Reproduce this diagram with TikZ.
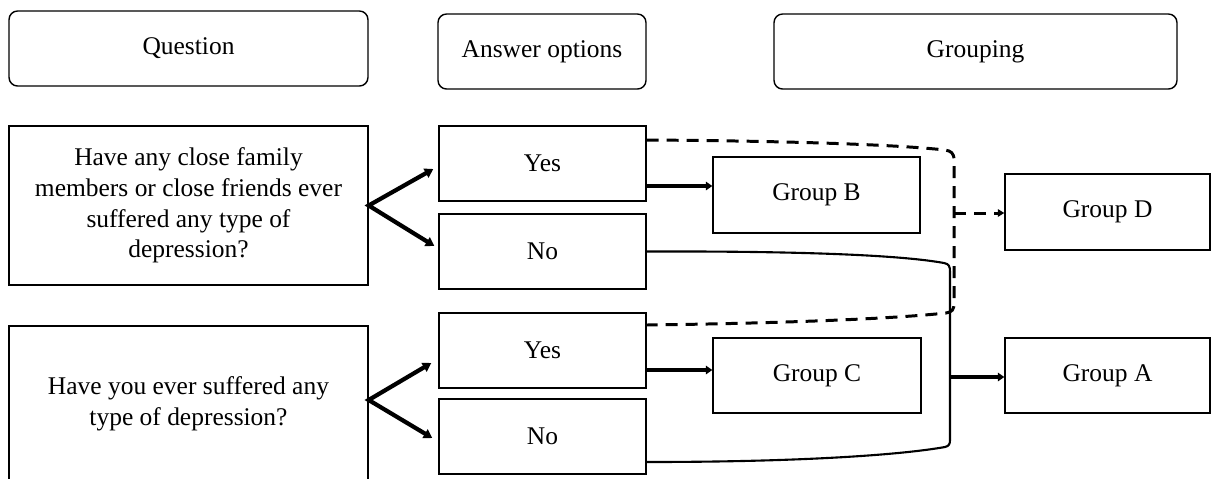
\documentclass[tikz,border=0pt]{standalone}
\usepackage{fontspec}
\setmainfont{Liberation Serif}
\usetikzlibrary{arrows.meta,calc}
\begin{document}
\begin{tikzpicture}[x=0.02cm,y=-0.02cm,
  box/.style={draw, line width=0.8pt, minimum height=1.5cm, inner sep=0pt, align=center,
    font=\fontsize{14.5}{17.5}\selectfont},
  head/.style={box, rounded corners=0.17cm},
  varrow/.style={line width=2.4pt, miter limit=10,
    {Triangle[length=0.17cm,width=0.2cm]}-{Triangle[length=0.17cm,width=0.2cm]}},
  harrow/.style={line width=1.8pt, -{Triangle[length=0.13cm,width=0.17cm]}},
  dline/.style={line width=1.7pt, dash pattern=on 0.24cm off 0.16cm},
  sline/.style={line width=1.2pt}]
\useasboundingbox (0,0) rectangle (1211,478);
% headers
\node[head, minimum width=7.18cm] (hq) at (188.5,48.5) {Question};
\node[head, minimum width=4.16cm] (ha) at (542,51.5) {Answer options};
\node[head, minimum width=8.06cm] (hg) at (975.5,51.5) {Grouping};
% questions
\node[box, minimum width=7.18cm, minimum height=3.18cm] (q1) at (188.5,205.5)
  {Have any close family\\members or close friends ever\\suffered any type of\\depression?};
\node[box, minimum width=7.18cm, minimum height=3.12cm] (q2) at (188.5,404)
  {Have you ever suffered any\\type of depression?};
% answers
\node[box, minimum width=4.14cm] (y1) at (542.5,163.5) {Yes};
\node[box, minimum width=4.14cm] (n1) at (542.5,251.5) {No};
\node[box, minimum width=4.14cm] (y2) at (542.5,350.5) {Yes};
\node[box, minimum width=4.14cm] (n2) at (542.5,436.5) {No};
% groups
\node[box, minimum width=4.14cm, minimum height=1.52cm] (gB) at (816.5,195) {Group B};
\node[box, minimum width=4.16cm, minimum height=1.5cm] (gC) at (817,375.5) {Group C};
\node[box, minimum width=4.1cm, minimum height=1.52cm] (gD) at (1107.5,212) {Group D};
\node[box, minimum width=4.1cm, minimum height=1.5cm] (gA) at (1107.5,375.5) {Group A};
% V arrows
\draw[varrow] ($(y1.west)+(-5,5.5)$) -- (q1.east) -- ($(n1.west)+(-4,-5.5)$);
\coordinate (v2) at ($(q2.east)+(0,-4)$);
\draw[varrow] ($(y2.west)+(-7,12.5)$) -- (v2) -- ($(n2.west)+(-6,1.5)$);
% Yes -> group
\coordinate (a1) at ($(y1.east)+(0,22.5)$);
\draw[harrow] (a1) -- (a1 -| gB.west);
\coordinate (a2) at ($(y2.east)+(0,19.5)$);
\draw[harrow] (a2) -- (a2 -| gC.west);
% dashed connector (Yes + Yes -> Group D)
\coordinate (d1) at ($(y1.east)+(0,-23.5)$);
\coordinate (d2) at ($(y2.east)+(0,-25.5)$);
\draw[dline] (d1) .. controls (800,141) and (900,145) .. (945,150)
  .. controls (951,151) and (954,153) .. (954,160) -- (954,303)
  .. controls (954,310) and (952,312) .. (946,313)
  .. controls (900,318) and (800,323) .. (d2);
\coordinate (dv) at (954,213);
\draw[dline, -{Triangle[length=0.13cm,width=0.15cm]}] (dv) -- (dv -| gD.west);
% solid connector (No + No -> Group A)
\coordinate (s1) at ($(n2.east)+(0,25.5)$);
\draw[sline] (n1.east) .. controls (800,251) and (900,255) .. (944,263)
  .. controls (949,264) and (950,266) .. (950,272) -- (950,440)
  .. controls (950,444) and (949,446) .. (945,447)
  .. controls (900,455) and (800,462) .. (s1);
\coordinate (sv) at (950,377);
\draw[harrow] (sv) -- (sv -| gA.west);
\end{tikzpicture}
\end{document}
